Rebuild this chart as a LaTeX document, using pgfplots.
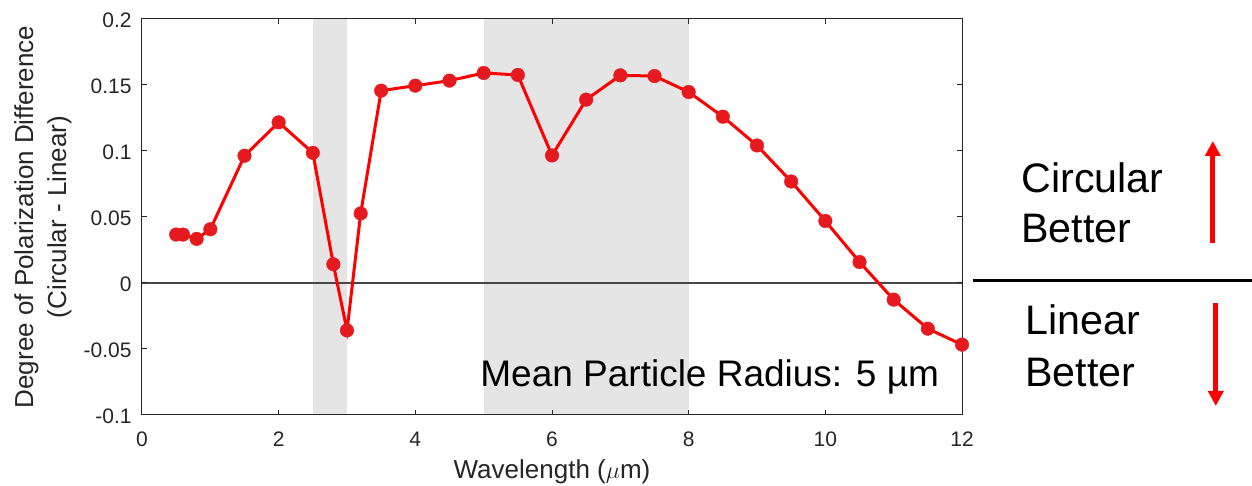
\documentclass[border=0pt]{standalone}
\usepackage{fontspec}
\setmainfont{Liberation Sans}
\usepackage{pgfplots}
\pgfplotsset{compat=1.18}
\usetikzlibrary{arrows.meta}
\definecolor{shade}{RGB}{229,229,229}
\definecolor{axgray}{RGB}{38,38,38}
\definecolor{lred}{RGB}{255,0,0}
\definecolor{mred}{RGB}{230,26,30}

\pgfplotstableread{
x y
0.5 0.0367
0.6 0.0367
0.8 0.0334
1.0 0.0407
1.5 0.0964
2.0 0.1217
2.5 0.0986
2.8 0.0142
3.0 -0.0359
3.2 0.0527
3.5 0.1457
4.0 0.1495
4.5 0.1533
5.0 0.1591
5.5 0.1576
6.0 0.0966
6.5 0.1389
7.0 0.1573
7.5 0.1568
8.0 0.1447
8.5 0.1260
9.0 0.1042
9.5 0.0769
10.0 0.0470
10.5 0.0159
11.0 -0.0126
11.5 -0.0346
12.0 -0.0467
}\dpdata

\begin{document}
\begin{tikzpicture}
\useasboundingbox (-71pt,-35.5pt) rectangle (555pt,207.5pt);
\begin{axis}[
  at={(0,0)}, anchor=south west,
  scale only axis, width=410pt, height=198pt,
  xmin=0, xmax=12, ymin=-0.1, ymax=0.2,
  xtick={0,2,4,6,8,10,12}, xticklabels={0,2,4,6,8,10,12},
  ytick={-0.1,-0.05,0,0.05,0.1,0.15,0.2},
  yticklabels={-0.1,-0.05,0,0.05,0.1,0.15,0.2},
  tick align=inside, major tick length=2.5pt,
  tick style={axgray, line width=0.5pt},
  axis line style={axgray, line width=0.5pt},
  axis on top,
  ticklabel style={font=\fontsize{10.5}{12}\selectfont, text=axgray},
  xticklabel style={anchor=base, yshift=-16pt, inner sep=0pt},
  yticklabel style={anchor=east, xshift=-5pt, yshift=-0.8pt, inner sep=0pt},
  xlabel={Wavelength ($\mu$m)},
  xlabel style={at={(axis description cs:0.5,-0.1616)}, anchor=base, inner sep=0pt,
    font=\fontsize{13}{15}\selectfont, text=axgray},
  ylabel={Degree of Polarization Difference\\(Circular - Linear)},
  ylabel style={at={(axis description cs:-0.0854,0.5)}, anchor=south, inner sep=0pt,
    align=center, font=\fontsize{13}{16.5}\selectfont, text=axgray},
]
\addplot[fill=shade, draw=none, forget plot] coordinates {(2.5,-0.1) (2.5,0.2) (3,0.2) (3,-0.1)} -- cycle;
\addplot[fill=shade, draw=none, forget plot] coordinates {(5,-0.1) (5,0.2) (8,0.2) (8,-0.1)} -- cycle;
\addplot[axgray!85, line width=0.55pt, forget plot] coordinates {(0,0) (12,0)};
\addplot[lred, line width=1.5pt, mark=*, mark size=3.4pt,
  mark options={fill=mred, draw=mred, line width=0.2pt}] table {\dpdata};
\end{axis}
\node[anchor=base west, inner sep=0pt, font=\fontsize{18.5}{22}\selectfont] at (169pt,14.2pt) {Mean Particle Radius: 5 µm};
\draw[line width=1.3pt] (415.5pt,67.3pt) -- (555pt,67.3pt);
\node[anchor=base west, inner sep=0pt, font=\fontsize{20.6}{24}\selectfont] at (439.5pt,111.2pt) {Circular};
\node[anchor=base west, inner sep=0pt, font=\fontsize{20.6}{24}\selectfont] at (439.5pt,86.2pt) {Better};
\node[anchor=base west, inner sep=0pt, font=\fontsize{20.6}{24}\selectfont] at (441.5pt,40pt) {Linear};
\node[anchor=base west, inner sep=0pt, font=\fontsize{20.6}{24}\selectfont] at (441.5pt,14.2pt) {Better};
\draw[lred, line width=2.6pt, -{Triangle[length=7.5pt,width=7.5pt]}] (535.4pt,85.9pt) -- (535.4pt,137pt);
\draw[lred, line width=2.6pt, -{Triangle[length=7.5pt,width=7.5pt]}] (536.9pt,55.9pt) -- (536.9pt,4.5pt);
\end{tikzpicture}
\end{document}
